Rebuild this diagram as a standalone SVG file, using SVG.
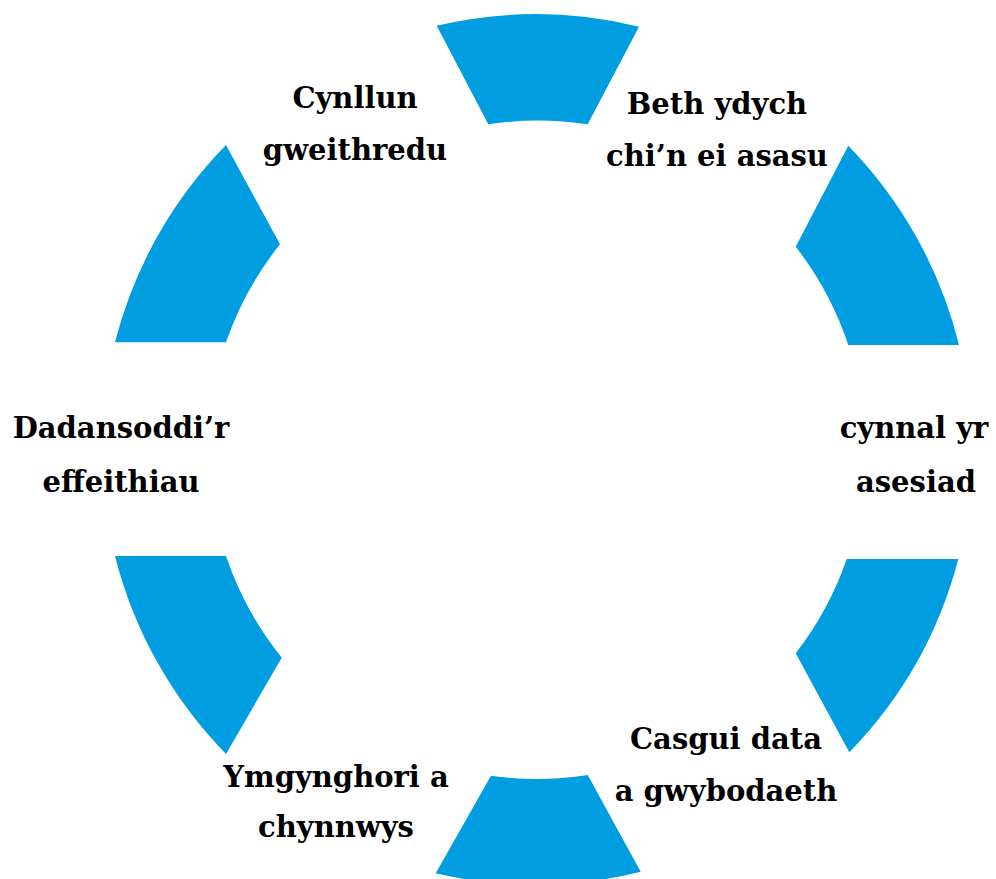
<svg xmlns="http://www.w3.org/2000/svg" width="996" height="879" viewBox="0 0 996 879">
<style>
.seg{fill:#009EE0;stroke:none}
.lbl{font-family:"DejaVu Serif","Liberation Serif",serif;font-weight:bold;font-size:29px;fill:#000;text-anchor:middle}
</style>
<rect width="996" height="879" fill="#fff"/>
<g id="segments">
<path class="seg" d="M436.7,25.7 A435,435 0 0 1 639,26.7 L587.7,124.3 A330,330 0 0 0 488.3,124.3 Z"/>
<path class="seg" d="M848.3,145.7 A435,435 0 0 1 959,345 L848.3,345 A330,330 0 0 0 795.7,246.7 Z"/>
<path class="seg" d="M958.3,559 A435,435 0 0 1 849.3,752.3 L795.7,653.3 A330,330 0 0 0 846.7,559 Z"/>
<path class="seg" d="M640.7,871.7 A435,435 0 0 1 435.7,873.3 L491,775.7 A330,330 0 0 0 587.7,775 Z"/>
<path class="seg" d="M226,754 A435,435 0 0 1 115,556 L226,556 A330,330 0 0 0 281.7,657.7 Z"/>
<path class="seg" d="M115,342.3 A435,435 0 0 1 226,145 L280,244.3 A330,330 0 0 0 226,342.3 Z"/>
</g>
<g id="connectors"></g>
<g id="node-cynllun"><text class="lbl" x="355" y="108">Cynllun</text><text class="lbl" x="355" y="160">gweithredu</text></g>
<g id="node-beth"><text class="lbl" x="717" y="114">Beth ydych</text><text class="lbl" x="717" y="166">chi’n ei asasu</text></g>
<g id="node-cynnal"><text class="lbl" x="914" y="438">cynnal yr</text><text class="lbl" x="916" y="492">asesiad</text></g>
<g id="node-casgui"><text class="lbl" x="726" y="749">Casgui data</text><text class="lbl" x="726" y="801">a gwybodaeth</text></g>
<g id="node-ymgynghori"><text class="lbl" x="336" y="787">Ymgynghori a</text><text class="lbl" x="336" y="837">chynnwys</text></g>
<g id="node-dadansoddi"><text class="lbl" x="121" y="438">Dadansoddi’r</text><text class="lbl" x="121" y="492">effeithiau</text></g>
</svg>
